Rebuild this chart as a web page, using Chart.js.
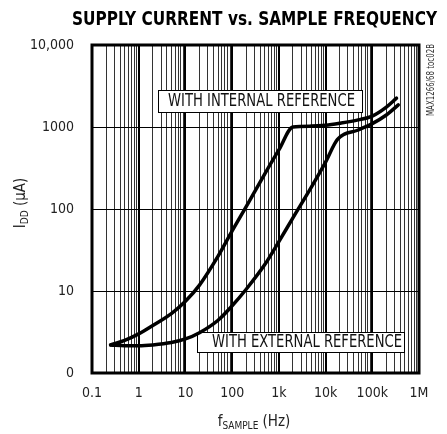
<!DOCTYPE html>
<html>
<head>
<meta charset="utf-8">
<script src="https://cdn.jsdelivr.net/npm/chart.js@4/dist/chart.umd.min.js"></script>
<style>
html,body{margin:0;padding:0;background:#fff;}
#c{display:block;}
</style>
</head>
<body>
<canvas id="c" width="447" height="434"></canvas>
<script>
// ---- data ----
const freqInternal = [0.25, 0.5, 1, 2, 5, 10, 20, 50, 100, 200, 500, 1000, 2000, 5000, 10000, 20000, 50000, 100000, 200000, 330000];
const iddInternal  = [2.2, 2.5, 3.0, 3.8, 5.3, 7.5, 11.8, 26.6, 54, 107, 268, 525, 1000, 1025, 1050, 1110, 1220, 1360, 1750, 2250];
const freqExternal = [0.25, 0.5, 1, 2, 5, 10, 20, 50, 100, 200, 500, 1000, 2000, 5000, 10000, 18000, 50000, 100000, 200000, 360000];
const iddExternal  = [2.2, 2.15, 2.15, 2.2, 2.35, 2.6, 3.1, 4.4, 6.6, 10.5, 21, 40, 78, 186, 373, 707, 920, 1100, 1400, 1860];
const xTickValues = [0.1, 1, 10, 100, 1000, 10000, 100000, 1000000];
const xTickLabels = ['0.1', '1', '10', '100', '1k', '10k', '100k', '1M'];
const yTickValues = [1, 10, 100, 1000, 10000];
const yTickLabels = ['0', '10', '100', '1000', '10,000'];
const labelInternal = 'WITH INTERNAL REFERENCE';
const labelExternal = 'WITH EXTERNAL REFERENCE';
const titleText = 'SUPPLY CURRENT vs. SAMPLE FREQUENCY';
const sideText = 'MAX1266/68 toc02B';

const FONT = '"Liberation Sans Narrow", "DejaVu Sans Condensed", "Arial Narrow", sans-serif';

function same(a, b) { return Math.abs(a - b) / b < 1e-6; }
function isDecade(v) { return xTickValues.some(d => same(d, v)); }
function toPoints(xs, ys) { return xs.map((x, i) => ({x: x, y: ys[i]})); }

function fitText(ctx, text, cx, cy, maxW, font, align) {
  ctx.save();
  ctx.font = font;
  const w = ctx.measureText(text).width;
  const s = w > 0 ? maxW / w : 1;
  ctx.translate(cx, cy);
  ctx.scale(s, 1);
  ctx.textAlign = align || 'center';
  ctx.fillText(text, 0, 0);
  ctx.restore();
}

const decorations = {
  id: 'decorations',
  beforeDatasetsDraw(chart) {
    const ctx = chart.ctx;
    ctx.save();
    ctx.fillStyle = '#fff';
    ctx.strokeStyle = '#000';
    ctx.lineWidth = 1;
    // label boxes
    ctx.fillRect(158, 90, 205, 23);
    ctx.strokeRect(158.5, 90.5, 204, 22);
    ctx.fillRect(197, 332, 208, 21);
    ctx.strokeRect(197.5, 332.5, 207, 20);
    ctx.fillStyle = '#111';
    ctx.textBaseline = 'middle';
    fitText(ctx, labelInternal, 261.5, 102, 187, '17px ' + FONT);
    fitText(ctx, labelExternal, 307, 343, 190, '17px ' + FONT);
    ctx.restore();
  },
  afterDraw(chart) {
    const ctx = chart.ctx;
    const a = chart.chartArea;
    ctx.save();
    // frame
    ctx.strokeStyle = '#000';
    ctx.lineWidth = 3;
    ctx.strokeRect(a.left, a.top, a.right - a.left, a.bottom - a.top);
    // title
    ctx.fillStyle = '#000';
    ctx.textBaseline = 'alphabetic';
    fitText(ctx, titleText, 254.5, 25, 365, 'bold 20px ' + FONT);
    // y axis title with subscript
    ctx.fillStyle = '#222';
    ctx.save();
    ctx.translate(25, 203);
    ctx.rotate(-Math.PI / 2);
    const big = '15px ' + FONT, small = '10px ' + FONT;
    ctx.font = big; const w1 = ctx.measureText('I').width;
    ctx.font = small; const w2 = ctx.measureText('DD').width;
    ctx.font = big; const w3 = ctx.measureText(' (\u00B5A)').width;
    let x = -(w1 + w2 + w3) / 2;
    ctx.textAlign = 'left';
    ctx.font = big; ctx.fillText('I', x, 0); x += w1;
    ctx.font = small; ctx.fillText('DD', x, 3); x += w2;
    ctx.font = big; ctx.fillText(' (\u00B5A)', x, 0);
    ctx.restore();
    // x axis title with subscript
    ctx.save();
    ctx.font = big; const v1 = ctx.measureText('f').width;
    ctx.font = small; const v2 = ctx.measureText('SAMPLE').width;
    ctx.font = big; const v3 = ctx.measureText(' (Hz)').width;
    let xx = 254 - (v1 + v2 + v3) / 2;
    const yb = 426;
    ctx.textAlign = 'left';
    ctx.font = big; ctx.fillText('f', xx, yb); xx += v1;
    ctx.font = small; ctx.fillText('SAMPLE', xx, yb + 3); xx += v2;
    ctx.font = big; ctx.fillText(' (Hz)', xx, yb);
    ctx.restore();
    // side text
    ctx.save();
    ctx.fillStyle = '#333';
    ctx.translate(434, 44);
    ctx.rotate(-Math.PI / 2);
    ctx.textBaseline = 'alphabetic';
    fitText(ctx, sideText, -36, 0, 72, '10px ' + FONT, 'center');
    ctx.restore();
    ctx.restore();
  }
};

new Chart(document.getElementById('c'), {
  type: 'scatter',
  data: {
    datasets: [
      {data: toPoints(freqInternal, iddInternal)},
      {data: toPoints(freqExternal, iddExternal)}
    ]
  },
  options: {
    responsive: false,
    animation: false,
    devicePixelRatio: 1,
    layout: {padding: {top: 45, right: 28, left: 0, bottom: 0}},
    elements: {
      point: {radius: 0},
      line: {borderColor: '#000', borderWidth: 3.5, cubicInterpolationMode: 'monotone', borderCapStyle: 'round', borderJoinStyle: 'round'}
    },
    datasets: {scatter: {showLine: true}},
    plugins: {legend: {display: false}, tooltip: {enabled: false}, title: {display: false}},
    scales: {
      x: {
        type: 'logarithmic',
        min: 0.1, max: 1000000,
        afterBuildTicks(scale) {
          const t = [];
          for (let i = 0; i < xTickValues.length - 1; i++) {
            for (let m = 1; m < 10; m++) t.push({value: xTickValues[i] * m});
          }
          t.push({value: xTickValues[xTickValues.length - 1]});
          scale.ticks = t;
        },
        afterFit(scale) { scale.height = 61; },
        border: {display: false},
        grid: {
          color: (c) => (c.tick && isDecade(c.tick.value)) ? '#000' : '#333',
          lineWidth: (c) => (c.tick && isDecade(c.tick.value)) ? 2 : 1,
          drawTicks: false
        },
        ticks: {
          autoSkip: false, maxRotation: 0, minRotation: 0, padding: 12,
          color: '#222',
          font: {family: FONT, size: 14},
          callback: (v) => { const i = xTickValues.findIndex(d => same(d, v)); return i >= 0 ? xTickLabels[i] : ''; }
        }
      },
      y: {
        type: 'logarithmic',
        min: 1, max: 10000,
        afterBuildTicks(scale) { scale.ticks = yTickValues.map(v => ({value: v})); },
        afterFit(scale) { scale.width = 92; },
        border: {display: false},
        grid: {color: '#000', lineWidth: 1, drawTicks: false},
        ticks: {
          autoSkip: false, padding: 18,
          color: '#222',
          font: {family: FONT, size: 14},
          callback: (v) => { const i = yTickValues.findIndex(d => same(d, v)); return i >= 0 ? yTickLabels[i] : ''; }
        }
      }
    }
  },
  plugins: [decorations]
});
</script>
</body>
</html>
